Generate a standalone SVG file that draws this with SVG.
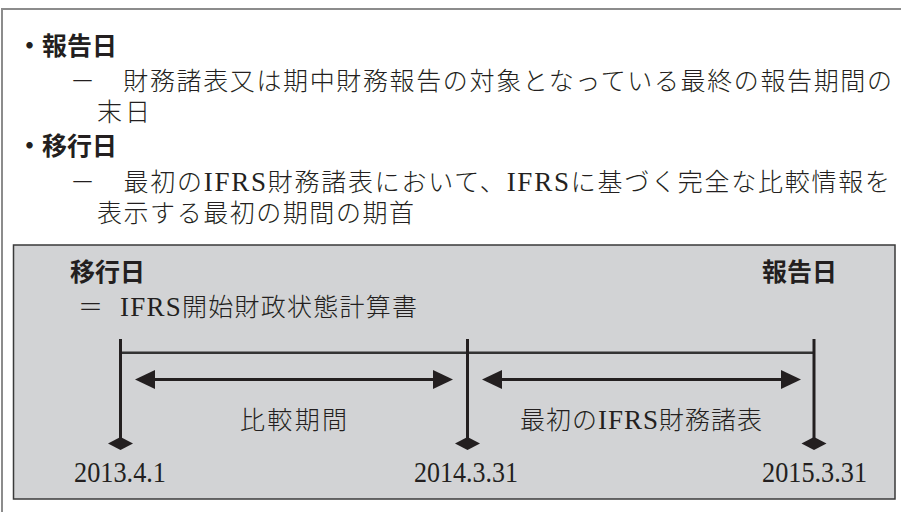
<svg xmlns="http://www.w3.org/2000/svg" width="901" height="512" viewBox="0 0 901 512">
<style>
.bg{fill:#ffffff}
.frame{fill:none;stroke:#8c8c8c;stroke-width:2}
.box{fill:#d2d3d5;stroke:#3a3a3a;stroke-width:1.5}
.h{font-family:"Noto Sans CJK JP","Noto Sans CJK SC",sans-serif;font-weight:700;font-size:25px;fill:#231f20}
.m{font-family:"Liberation Serif","Noto Sans CJK JP",serif;font-weight:300;font-size:25px;fill:#231f20}
.lat{font-family:"Liberation Serif",serif;font-weight:400;font-size:27px}
.d{font-family:"Liberation Serif",serif;font-size:28.5px;fill:#231f20}
.tick{stroke:#231f20;stroke-width:3;fill:none}
.axis{stroke:#333333;stroke-width:2.5;fill:none}
.arr{stroke:#231f20;stroke-width:3;fill:none}
</style>
<defs>
<marker id="ah" markerUnits="userSpaceOnUse" markerWidth="20" markerHeight="19" refX="10" refY="9.5" orient="auto-start-reverse">
<path d="M0,0 L20,9.5 L0,19 Z" fill="#231f20"/>
</marker>
<marker id="dia" markerUnits="userSpaceOnUse" markerWidth="26" markerHeight="14" refX="13" refY="7" orient="0">
<path d="M0.5,7 L13,0.5 L25.5,7 L13,13.5 Z" fill="#231f20"/>
</marker>
</defs>
<rect class="bg" x="0" y="0" width="901" height="512"/>
<path class="frame" d="M2,512 L2,9 L901,9"/>

<g id="definitions">
<text class="h" x="17" y="55">・報告日</text>
<text class="m" x="70" y="90" textLength="822" lengthAdjust="spacing">－　財務諸表又は期中財務報告の対象となっている最終の報告期間の</text>
<text class="m" x="97" y="121" textLength="53" lengthAdjust="spacing">末日</text>
<text class="h" x="17" y="155">・移行日</text>
<text class="m" x="70" y="191" textLength="820" lengthAdjust="spacing">－　最初の<tspan class="lat">IFRS</tspan>財務諸表において、<tspan class="lat">IFRS</tspan>に基づく完全な比較情報を</text>
<text class="m" x="97" y="222" textLength="317" lengthAdjust="spacing">表示する最初の期間の期首</text>
</g>

<g id="timeline-box">
<rect class="box" x="13.5" y="245" width="881.5" height="254"/>
</g>

<g id="node-transition">
<text class="h" x="70" y="281">移行日</text>
<text class="m" y="316"><tspan x="78">＝</tspan></text>
<text class="m" x="120" y="316" textLength="297" lengthAdjust="spacing"><tspan class="lat">IFRS</tspan>開始財政状態計算書</text>
</g>
<g id="node-report">
<text class="h" x="762" y="281">報告日</text>
</g>

<g id="connectors">
<line class="axis" x1="120.5" y1="352.7" x2="814" y2="352.7"/>
<line class="tick" x1="120.5" y1="339" x2="120.5" y2="443.5" marker-end="url(#dia)"/>
<line class="tick" x1="467.5" y1="339" x2="467.5" y2="443.5" marker-end="url(#dia)"/>
<line class="tick" x1="814" y1="339" x2="814" y2="443.5" marker-end="url(#dia)"/>
<line class="arr" x1="145" y1="379.5" x2="443" y2="379.5" marker-start="url(#ah)" marker-end="url(#ah)"/>
<line class="arr" x1="492" y1="379.5" x2="791" y2="379.5" marker-start="url(#ah)" marker-end="url(#ah)"/>
</g>

<g id="period-comparative">
<text class="m" x="240" y="429" textLength="107" lengthAdjust="spacing">比較期間</text>
</g>
<g id="period-first-ifrs">
<text class="m" x="520" y="429" textLength="242" lengthAdjust="spacing">最初の<tspan class="lat">IFRS</tspan>財務諸表</text>
</g>

<g id="dates">
<text class="d" x="74" y="482" textLength="92" lengthAdjust="spacingAndGlyphs">2013.4.1</text>
<text class="d" x="414" y="482" textLength="104" lengthAdjust="spacingAndGlyphs">2014.3.31</text>
<text class="d" x="762" y="482" textLength="105" lengthAdjust="spacingAndGlyphs">2015.3.31</text>
</g>
</svg>
